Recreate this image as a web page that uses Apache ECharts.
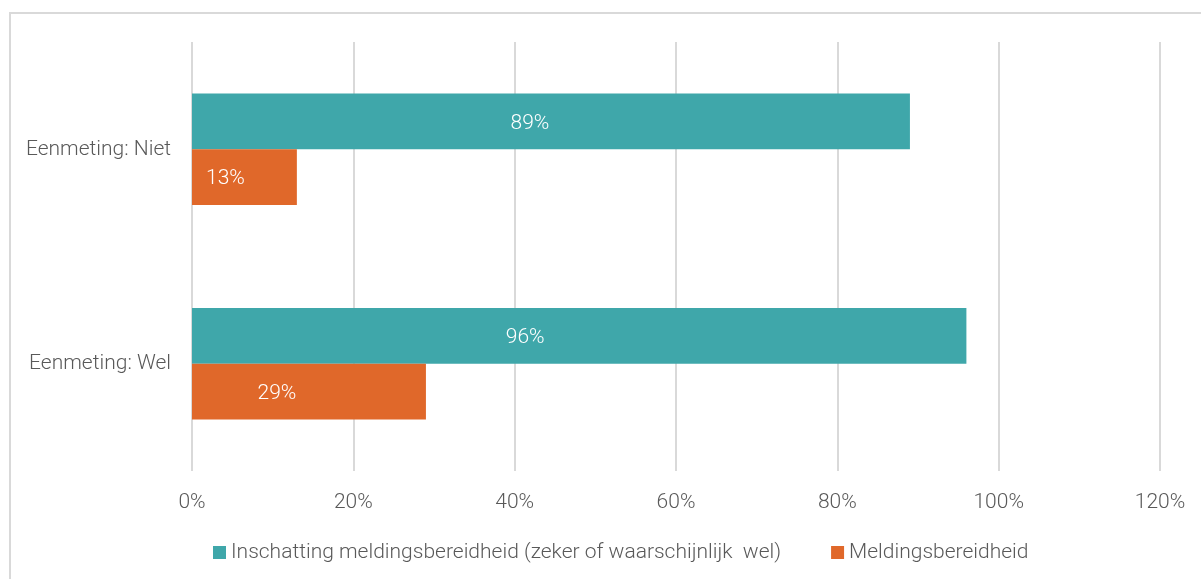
<!DOCTYPE html>
<html>
<head>
<meta charset="utf-8">
<script src="https://cdn.jsdelivr.net/npm/echarts@6/dist/echarts.min.js"></script>
<style>
	html, body { margin: 0; padding: 0; background: #fff; overflow: hidden; }
	#chart { width: 1201px; height: 579px; }
</style>
</head>
<body>
<div id="chart"></div>
<script>
	// categorieën (van boven naar onder)
	var categories = ['Eenmeting: Niet', 'Eenmeting: Wel'];
	// reeksnamen
	var seriesNames = ['Inschatting meldingsbereidheid (zeker of waarschijnlijk  wel)', 'Meldingsbereidheid'];
	// waarden in %
	var inschatting = [89, 96];
	var melding = [13, 29];
	var tickMax = 120;

	var textColor = '#595959';
	var fontFamily = 'Roboto';
	var fontSize = 21;
	// labelverschuiving (zoals in het origineel staan de labels niet precies in het midden)
	var offsetsInschatting = [[-21, 2], [-54, 2]];
	var offsetsMelding = [[-19, 2], [-32, 2]];

	function withOffsets(values, offsets) {
		return values.map(function(v, i) {
			return { value: v, label: { offset: offsets[i] } };
		});
	}

	var barLabel = {
		show: true,
		position: 'inside',
		formatter: '{c}%',
		color: '#fff',
		fontSize: fontSize,
		fontFamily: fontFamily,
		fontWeight: 300
	};

	var myChart = echarts.init(document.getElementById('chart'));
	var option = {
		animation: false,
		color: ['#3FA7AA', '#E0682A'],
		textStyle: { fontFamily: fontFamily, fontWeight: 300 },
		graphic: [{
			type: 'rect',
			silent: true,
			shape: { x: 10, y: 13, width: 1400, height: 800 },
			style: { fill: 'none', stroke: '#d9d9d9', lineWidth: 2 }
		}],
		grid: { left: 192, right: 41, top: 42, bottom: 108 },
		legend: {
			bottom: 11,
			left: 208,
			itemWidth: 13,
			itemHeight: 13,
			itemGap: 50,
			icon: 'rect',
			textStyle: { fontSize: fontSize, color: textColor, fontFamily: fontFamily, fontWeight: 300 },
			data: seriesNames
		},
		xAxis: {
			type: 'value',
			min: 0,
			max: tickMax,
			interval: 20,
			axisLine: { show: false },
			axisTick: { show: false },
			splitLine: { lineStyle: { color: '#d9d9d9', width: 2 } },
			axisLabel: {
				formatter: '{value}%',
				fontSize: fontSize,
				color: textColor,
				fontFamily: fontFamily,
				fontWeight: 300,
				margin: 21
			}
		},
		yAxis: {
			type: 'category',
			inverse: true,
			data: categories,
			axisLine: { show: false },
			axisTick: { show: false },
			axisLabel: {
				fontSize: fontSize,
				color: textColor,
				fontFamily: fontFamily,
				fontWeight: 300,
				padding: [4, 0, 0, 0],
				margin: 21
			}
		},
		series: [{
			name: seriesNames[0],
			type: 'bar',
			data: withOffsets(inschatting, offsetsInschatting),
			barGap: '0%',
			barCategoryGap: '48%',
			label: barLabel
		}, {
			name: seriesNames[1],
			type: 'bar',
			data: withOffsets(melding, offsetsMelding),
			barGap: '0%',
			barCategoryGap: '48%',
			label: barLabel
		}]
	};
	myChart.setOption(option);
</script>
</body>
</html>
